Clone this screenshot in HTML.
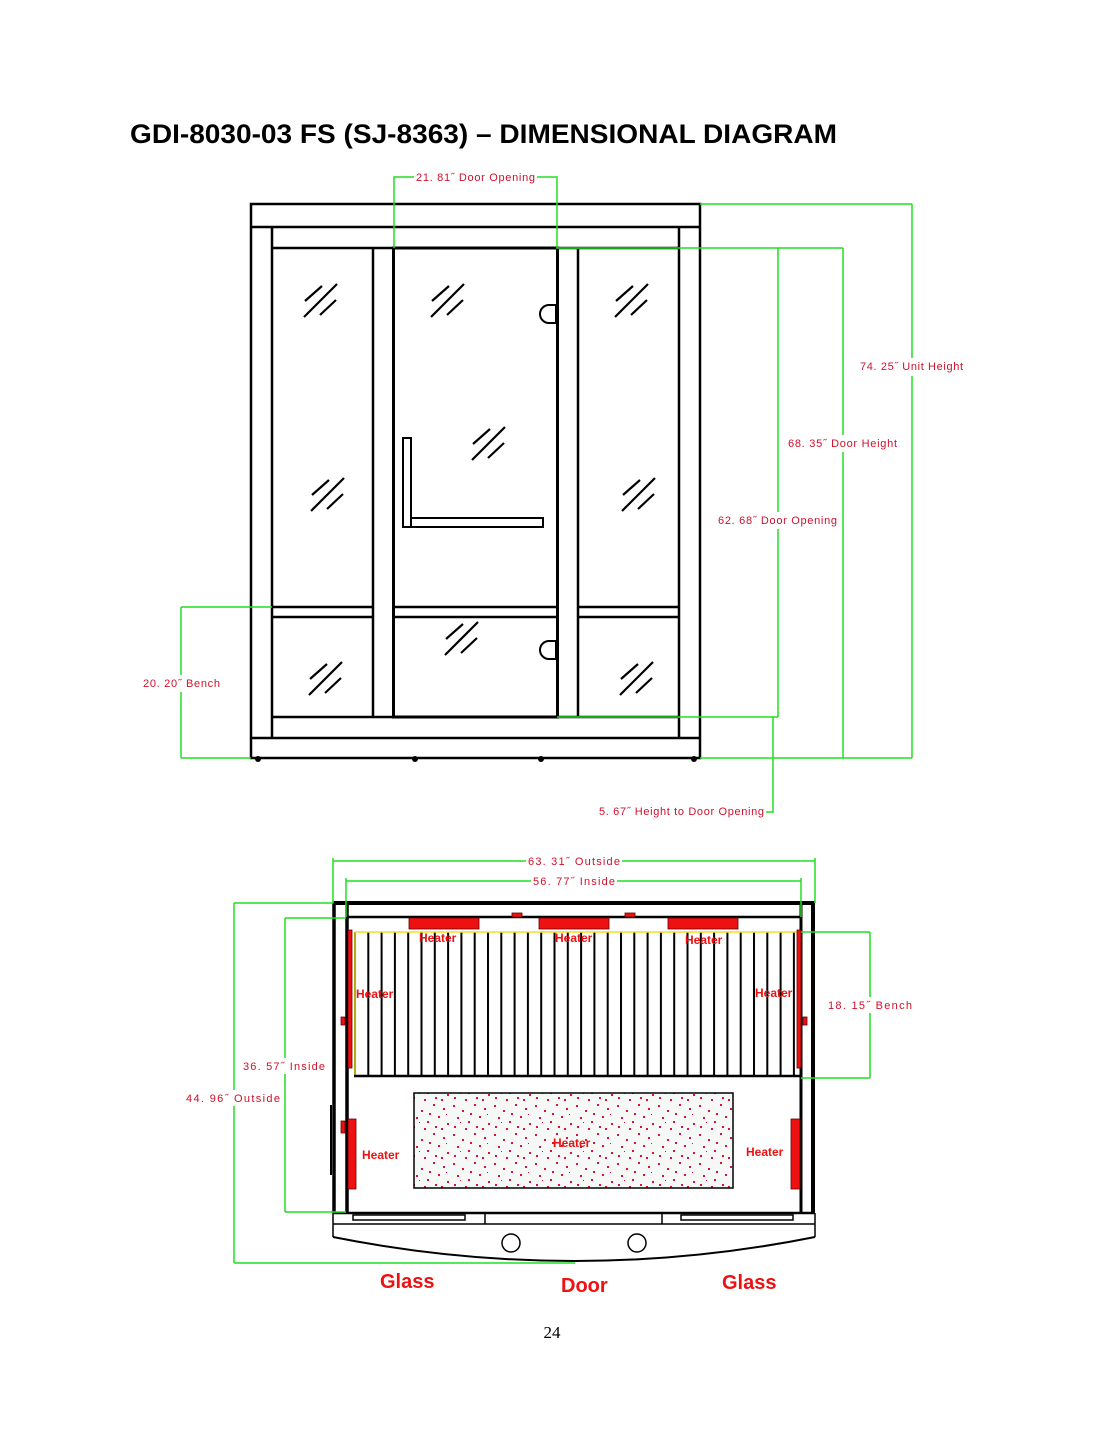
<!DOCTYPE html>
<html><head><meta charset="utf-8"><style>
html,body{margin:0;padding:0;background:#fff;}
svg{display:block}
.d{font-family:"Liberation Sans",sans-serif;font-size:11px;fill:#d0102a}
.h{font-family:"Liberation Sans",sans-serif;font-size:12px;font-weight:bold;fill:#ee1111}
.g{stroke:#22dd22;stroke-width:1.5;fill:none}
.k{stroke:#000;stroke-width:2.5;fill:none}
</style></head><body>
<svg width="1105" height="1430" viewBox="0 0 1105 1430" xmlns="http://www.w3.org/2000/svg">
<defs>
<g id="gl" stroke="#000" stroke-width="2.2">
<line x1="-15" y1="1" x2="2" y2="-14"/><line x1="-16" y1="17" x2="17" y2="-16"/><line x1="0" y1="15" x2="16" y2="0"/>
</g>
<pattern id="sl" x="354" y="0" width="13.3" height="10" patternUnits="userSpaceOnUse">
<line x1="1" y1="0" x2="1" y2="10" stroke="#000" stroke-width="2"/>
</pattern>
<pattern id="dt" x="0" y="0" width="41" height="29" patternUnits="userSpaceOnUse">
<rect width="41" height="29" fill="#f6f8f8"/>
<g fill="#e01030">
<rect x="2" y="3" width="2" height="2"/><rect x="11" y="8" width="2" height="2"/><rect x="23" y="2" width="2" height="2"/>
<rect x="33" y="6" width="2" height="2"/><rect x="6" y="15" width="2" height="2"/><rect x="17" y="19" width="2" height="2"/>
<rect x="28" y="14" width="2" height="2"/><rect x="37" y="21" width="2" height="2"/><rect x="3" y="24" width="2" height="2"/>
<rect x="14" y="26" width="2" height="2"/><rect x="25" y="24" width="2" height="2"/><rect x="19" y="11" width="2" height="2"/>
<rect x="31" y="26" width="2" height="2"/><rect x="9" y="20" width="1" height="1"/><rect x="36" y="12" width="1" height="1"/>
</g>
</pattern>
</defs>

<text x="130" y="143" font-family="Liberation Sans,sans-serif" font-weight="bold" font-size="27" textLength="707" lengthAdjust="spacingAndGlyphs">GDI-8030-03 FS (SJ-8363) – DIMENSIONAL DIAGRAM</text>

<!-- FRONT VIEW -->
<g class="k">
<rect x="251" y="204" width="449" height="554"/>
<line x1="251" y1="227" x2="700" y2="227"/>
<line x1="272" y1="227" x2="272" y2="738"/>
<line x1="679" y1="227" x2="679" y2="738"/>
<line x1="272" y1="248" x2="679" y2="248"/>
<line x1="272" y1="717" x2="679" y2="717"/>
<line x1="251" y1="738" x2="700" y2="738"/>
<line x1="373" y1="248" x2="373" y2="717"/>
<line x1="578" y1="248" x2="578" y2="717"/>
<line x1="272" y1="607" x2="373" y2="607"/><line x1="272" y1="617" x2="373" y2="617"/>
<line x1="393" y1="607" x2="557" y2="607"/><line x1="393" y1="617" x2="557" y2="617"/>
<line x1="578" y1="607" x2="679" y2="607"/><line x1="578" y1="617" x2="679" y2="617"/>
</g>
<rect x="393.5" y="248" width="164" height="469" fill="none" stroke="#000" stroke-width="3"/>
<g fill="none" stroke="#000" stroke-width="2">
<path d="M557 305 h-8 a9 9 0 0 0 0 18 h8"/><line x1="557" y1="305" x2="557" y2="323" stroke-width="4"/>
<path d="M557 641 h-8 a9 9 0 0 0 0 18 h8"/><line x1="557" y1="641" x2="557" y2="659" stroke-width="4"/>
<rect x="403" y="438" width="8" height="89"/><rect x="411" y="518" width="132" height="9"/>
</g>
<g fill="#000"><circle cx="258" cy="759" r="3"/><circle cx="415" cy="759" r="3"/><circle cx="541" cy="759" r="3"/><circle cx="694" cy="759" r="3"/></g>
<use href="#gl" x="320" y="300"/><use href="#gl" x="447" y="300"/><use href="#gl" x="631" y="300"/>
<use href="#gl" x="488" y="443"/><use href="#gl" x="327" y="494"/><use href="#gl" x="638" y="494"/>
<use href="#gl" x="461" y="638"/><use href="#gl" x="325" y="678"/><use href="#gl" x="636" y="678"/>

<!-- front dims -->
<g class="g">
<polyline points="394,248 394,177 414,177"/><polyline points="537,177 557,177 557,248 843,248"/>
<line x1="700" y1="204" x2="912" y2="204"/><line x1="700" y1="758" x2="912" y2="758"/>
<line x1="912" y1="204" x2="912" y2="358"/><line x1="912" y1="376" x2="912" y2="758"/>
<line x1="843" y1="248" x2="843" y2="435"/><line x1="843" y1="452" x2="843" y2="758"/>
<line x1="778" y1="248" x2="778" y2="512"/><line x1="778" y1="529" x2="778" y2="717"/>
<line x1="557" y1="717" x2="778" y2="717"/>
<polyline points="773,717 773,812 766,812"/>
<line x1="181" y1="607" x2="272" y2="607"/><line x1="181" y1="758" x2="251" y2="758"/>
<line x1="181" y1="607" x2="181" y2="675"/><line x1="181" y1="692" x2="181" y2="758"/>
</g>
<text class="d" x="416" y="181" textLength="119">21. 81˝  Door Opening</text>
<text class="d" x="860" y="370" textLength="103">74. 25˝  Unit Height</text>
<text class="d" x="788" y="447" textLength="109">68. 35˝  Door Height</text>
<text class="d" x="718" y="524" textLength="119">62. 68˝  Door Opening</text>
<text class="d" x="143" y="687" textLength="77">20. 20˝  Bench</text>
<text class="d" x="599" y="815" textLength="165">5. 67˝  Height to Door Opening</text>

<!-- PLAN VIEW -->
<rect x="354" y="932" width="446" height="144" fill="url(#sl)"/>
<line x1="355" y1="932" x2="800" y2="932" stroke="#f0e020" stroke-width="1.5"/>
<line x1="355" y1="932" x2="355" y2="1076" stroke="#f0e020" stroke-width="1.5"/>
<line x1="354" y1="1076" x2="801" y2="1076" stroke="#000" stroke-width="2.5"/>
<g stroke="#000" fill="none">
<line x1="333" y1="903" x2="815" y2="903" stroke-width="4"/>
<line x1="346" y1="917" x2="801" y2="917" stroke-width="2.5"/>
<line x1="334" y1="903" x2="334" y2="1213" stroke-width="3.5"/>
<line x1="347" y1="903" x2="347" y2="1213" stroke-width="3.5"/>
<line x1="813" y1="903" x2="813" y2="1213" stroke-width="4"/>
<line x1="801" y1="903" x2="801" y2="1213" stroke-width="3"/>
<line x1="333" y1="1213" x2="815" y2="1213" stroke-width="2.5"/>
<line x1="333" y1="1224" x2="815" y2="1224" stroke-width="1.5"/>
<line x1="333" y1="1213" x2="333" y2="1237" stroke-width="1.5"/>
<line x1="815" y1="1213" x2="815" y2="1237" stroke-width="1.5"/>
<path d="M333 1237 Q575 1285 815 1237" stroke-width="2"/>
<line x1="485" y1="1213" x2="485" y2="1224" stroke-width="1.5"/><line x1="662" y1="1213" x2="662" y2="1224" stroke-width="1.5"/>
<rect x="353" y="1215" width="112" height="5" stroke-width="1.5"/><rect x="681" y="1215" width="112" height="5" stroke-width="1.5"/>
<circle cx="511" cy="1243" r="9" stroke-width="1.5"/><circle cx="637" cy="1243" r="9" stroke-width="1.5"/>
<line x1="331" y1="1105" x2="331" y2="1175" stroke-width="2"/>
</g>
<g fill="#ee1111" stroke="#600" stroke-width="0.8">
<rect x="409" y="918" width="70" height="11"/><rect x="539" y="918" width="70" height="11"/><rect x="668" y="918" width="70" height="11"/>
<rect x="512" y="913" width="10" height="4"/><rect x="625" y="913" width="10" height="4"/>
<rect x="348" y="930" width="4" height="138"/><rect x="797" y="930" width="4" height="138"/>
<rect x="348" y="1119" width="8" height="70"/><rect x="791" y="1119" width="9" height="70"/>
<rect x="341" y="1017" width="4" height="8"/><rect x="803" y="1017" width="4" height="8"/>
<rect x="341" y="1121" width="4" height="12"/>
</g>
<rect x="414" y="1093" width="319" height="95" fill="url(#dt)" stroke="#000" stroke-width="1.5"/>
<text class="h" x="419" y="942">Heater</text><text class="h" x="555" y="942">Heater</text><text class="h" x="685" y="944">Heater</text>
<text class="h" x="356" y="998">Heater</text><text class="h" x="755" y="997">Heater</text>
<text class="h" x="553" y="1147">Heater</text><text class="h" x="362" y="1159">Heater</text><text class="h" x="746" y="1156">Heater</text>

<!-- plan dims -->
<g class="g">
<line x1="333" y1="861" x2="526" y2="861"/><line x1="622" y1="861" x2="815" y2="861"/>
<line x1="333" y1="858" x2="333" y2="903"/><line x1="815" y1="858" x2="815" y2="903"/>
<line x1="346" y1="881" x2="531" y2="881"/><line x1="617" y1="881" x2="801" y2="881"/>
<line x1="346" y1="878" x2="346" y2="917"/><line x1="801" y1="878" x2="801" y2="917"/>
<line x1="234" y1="903" x2="333" y2="903"/><line x1="234" y1="1263" x2="575" y2="1263"/>
<line x1="234" y1="903" x2="234" y2="1090"/><line x1="234" y1="1106" x2="234" y2="1263"/>
<line x1="285" y1="918" x2="346" y2="918"/><line x1="285" y1="1212" x2="346" y2="1212"/>
<line x1="285" y1="918" x2="285" y2="1058"/><line x1="285" y1="1074" x2="285" y2="1212"/>
<line x1="801" y1="932" x2="870" y2="932"/><line x1="801" y1="1078" x2="870" y2="1078"/>
<line x1="870" y1="932" x2="870" y2="997"/><line x1="870" y1="1013" x2="870" y2="1078"/>
</g>
<text class="d" x="528" y="865" font-size="12" textLength="92">63. 31˝  Outside</text>
<text class="d" x="533" y="885" font-size="12" textLength="82">56. 77˝  Inside</text>
<text class="d" x="243" y="1070" font-size="12" textLength="82">36. 57˝  Inside</text>
<text class="d" x="186" y="1102" font-size="12" textLength="94">44. 96˝  Outside</text>
<text class="d" x="828" y="1009" font-size="12" textLength="84">18. 15˝  Bench</text>

<g font-family="Liberation Sans,sans-serif" font-weight="bold" font-size="20" fill="#ee1111">
<text x="380" y="1288">Glass</text><text x="561" y="1292">Door</text><text x="722" y="1289">Glass</text>
</g>
<text x="552" y="1338" font-family="Liberation Serif,serif" font-size="17" text-anchor="middle">24</text>
</svg>
</body></html>
